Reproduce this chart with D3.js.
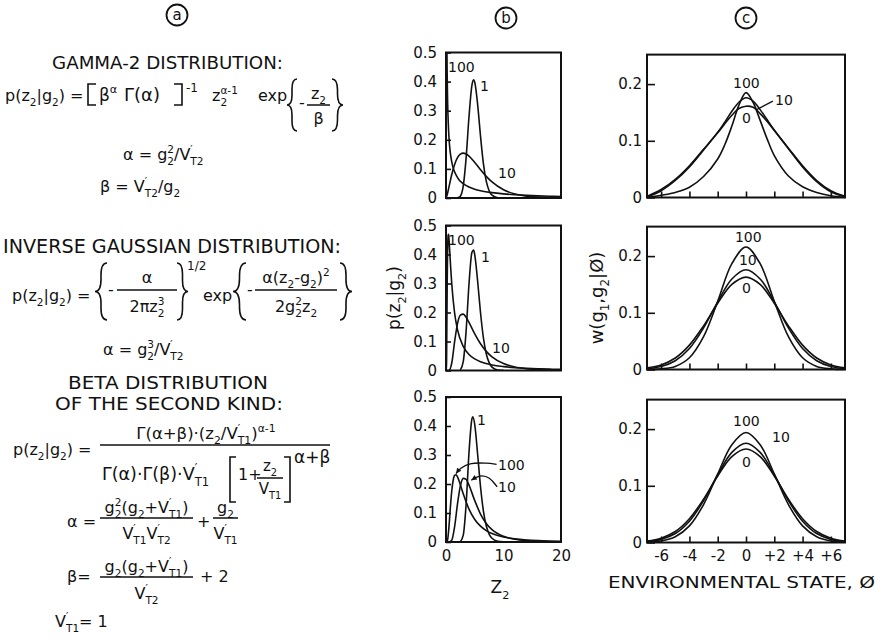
<!DOCTYPE html>
<html><head><meta charset="utf-8">
<script src="https://cdn.jsdelivr.net/npm/d3@7"></script>
<style>body{margin:0;background:#fff}svg{display:block}text{font-family:"DejaVu Sans",sans-serif;fill:#111}</style>
</head><body>
<script>
// ---------------- DATA ----------------
// Panel b: p(z2|g2) for V'T2 = 1, 10, 100
const gammaZ1   = [2, 2.5, 3, 3.5, 4, 4.5, 4.8, 5, 5.5, 6, 6.5, 7, 7.5, 8, 9, 10];
const gammaP1   = [0.0004, 0.0064, 0.0415, 0.138, 0.279, 0.386, 0.406, 0.398, 0.322, 0.213, 0.119, 0.058, 0.025, 0.0096, 0.0011, 0.0001];
const gammaZ10  = [0, 0.25, 0.5, 1, 1.5, 2, 2.5, 3, 3.5, 4, 5, 6, 7, 8, 10, 12, 14, 16, 18, 20];
const gammaP10  = [0, 0.0147, 0.0366, 0.0807, 0.1154, 0.1384, 0.1506, 0.1542, 0.1513, 0.144, 0.122, 0.0973, 0.0744, 0.0551, 0.0283, 0.0137, 0.0064, 0.0029, 0.0013, 0.0005];
const gammaZ100 = [0.05, 0.1, 0.15, 0.2, 0.25, 0.5, 0.75, 1, 2, 3, 4, 5, 6, 8, 10, 12, 14, 16, 18, 20];
const gammaP100 = [1.23, 0.73, 0.537, 0.432, 0.364, 0.214, 0.156, 0.124, 0.0702, 0.0492, 0.0378, 0.0304, 0.0252, 0.0184, 0.0141, 0.0111, 0.0089, 0.0073, 0.0061, 0.0051];

const igZ1   = [2.5, 3, 3.5, 4, 4.5, 4.8, 5, 5.5, 6, 6.5, 7, 7.5, 8, 9, 10];
const igP1   = [0.0022, 0.0306, 0.1366, 0.2984, 0.4066, 0.4154, 0.3989, 0.3087, 0.2001, 0.1133, 0.0577, 0.027, 0.0118, 0.0019, 0.0003];
const igZ10  = [0, 0.5, 1, 1.5, 2, 2.5, 3, 3.5, 4, 5, 6, 7, 8, 10, 12, 14, 16, 20];
const igP10  = [0, 0.0002, 0.0258, 0.0997, 0.1619, 0.191, 0.1945, 0.1834, 0.1656, 0.1262, 0.0921, 0.066, 0.0471, 0.0239, 0.0122, 0.0063, 0.0033, 0.001];
const igZ100 = [0, 0.05, 0.1, 0.15, 0.2, 0.25, 0.3, 0.35, 0.4, 0.45, 0.5, 0.6, 0.8, 1, 1.5, 2, 3, 4, 5, 6, 8, 10, 12, 14, 16, 18, 20];
const igP100 = [0, 0.0002, 0.0349, 0.1524, 0.2799, 0.3739, 0.4308, 0.4597, 0.4699, 0.4678, 0.4583, 0.4283, 0.3592, 0.299, 0.1979, 0.1409, 0.083, 0.0554, 0.0399, 0.0302, 0.0192, 0.0133, 0.0097, 0.0074, 0.0058, 0.0046, 0.0038];

const btZ1   = [2.5, 3, 3.5, 4, 4.5, 4.67, 5, 5.5, 6, 6.5, 7, 7.5, 8, 9, 10];
const btP1   = [0.0011, 0.0235, 0.1304, 0.3087, 0.4235, 0.4317, 0.4045, 0.3026, 0.1915, 0.1077, 0.0559, 0.0274, 0.013, 0.0027, 0.0005];
const btZ10  = [0, 0.5, 1, 1.5, 2, 2.5, 3, 3.5, 4, 5, 6, 7, 8, 10, 12, 14, 16, 20];
const btP10  = [0, 0.0001, 0.0063, 0.053, 0.1315, 0.1934, 0.2193, 0.2159, 0.1961, 0.1426, 0.0965, 0.0641, 0.0426, 0.0196, 0.0096, 0.005, 0.0028, 0.001];
const btZ100 = [0, 0.25, 0.5, 0.75, 1, 1.25, 1.5, 1.75, 2, 2.5, 3, 4, 5, 6, 7, 8, 10, 12, 14, 16, 18, 20];
const btP100 = [0, 0.0054, 0.0489, 0.1171, 0.176, 0.2129, 0.2296, 0.2318, 0.2246, 0.1974, 0.1661, 0.1134, 0.0778, 0.0546, 0.0394, 0.0291, 0.017, 0.0107, 0.0071, 0.0049, 0.0035, 0.0026];

const bYTicks = [0, 0.1, 0.2, 0.3, 0.4, 0.5];
const bXTicks = [0, 10, 20];

// Panel c: w(g1,g2|Ø) for V = 0, 10, 100
const phiTop = [-7, -6, -5, -4, -3, -2, -1.5, -1, -0.5, 0, 0.5, 1, 1.5, 2, 3, 4, 5, 6, 7];
const top0   = [0.002, 0.014, 0.032, 0.056, 0.085, 0.114, 0.13, 0.145, 0.157, 0.161, 0.159, 0.148, 0.134, 0.118, 0.087, 0.056, 0.03, 0.012, 0.002];
const top10  = [0.001, 0.012, 0.03, 0.054, 0.084, 0.115, 0.133, 0.152, 0.168, 0.176, 0.17, 0.155, 0.137, 0.119, 0.086, 0.054, 0.028, 0.01, 0.001];
const top100 = [0, 0.004, 0.009, 0.018, 0.037, 0.068, 0.093, 0.126, 0.163, 0.185, 0.168, 0.136, 0.103, 0.074, 0.038, 0.019, 0.009, 0.003, 0];

const phi    = [-7, -6, -5, -4, -3, -2, -1, 0, 1, 2, 3, 4, 5, 6, 7];
const mid0   = [0.0028, 0.0081, 0.0203, 0.043, 0.077, 0.1168, 0.150, 0.163, 0.150, 0.1168, 0.077, 0.043, 0.0203, 0.0081, 0.0028];
const mid10  = [0.0015, 0.0053, 0.0155, 0.0371, 0.0733, 0.1193, 0.1597, 0.176, 0.1597, 0.1193, 0.0733, 0.0371, 0.0155, 0.0053, 0.0015];
const mid100 = [0.0001, 0.0011, 0.0055, 0.0207, 0.0578, 0.1202, 0.1866, 0.216, 0.1866, 0.1202, 0.0578, 0.0207, 0.0055, 0.0011, 0.0001];
const bot0   = [0.0025, 0.0076, 0.0194, 0.042, 0.0764, 0.1172, 0.1515, 0.165, 0.1515, 0.1172, 0.0764, 0.042, 0.0194, 0.0076, 0.0025];
const bot10  = [0.0016, 0.0055, 0.0158, 0.0376, 0.0737, 0.1191, 0.1589, 0.175, 0.1589, 0.1191, 0.0737, 0.0376, 0.0158, 0.0055, 0.0016];
const bot100 = [0.0006, 0.0027, 0.0101, 0.0293, 0.0669, 0.1209, 0.1724, 0.194, 0.1724, 0.1209, 0.0669, 0.0293, 0.0101, 0.0027, 0.0006];

const cYTicks = [0, 0.1, 0.2];
const cXTicks = [-6, -4, -2, 0, 2, 4, 6];

// ---------------- SETUP ----------------
const INK = "#111";
const svg = d3.select("body").append("svg").attr("width", 886).attr("height", 640);
svg.append("rect").attr("width", 886).attr("height", 640).attr("fill", "#fff");

function parse(str) {
  const out = []; let i = 0, buf = "";
  const flush = () => { if (buf) { out.push({ t: buf, m: 0 }); buf = ""; } };
  while (i < str.length) {
    const c = str[i];
    if (c === "_" || c === "^") {
      flush(); i++;
      let arg;
      if (str[i] === "{") { const j = str.indexOf("}", i); arg = str.slice(i + 1, j); i = j + 1; }
      else { arg = str[i]; i++; }
      out.push({ t: arg, m: c === "_" ? 1 : -1 });
    } else { buf += c; i++; }
  }
  flush();
  return out;
}
function rich(g, x, y, str, size, anchor) {
  const t = g.append("text").attr("x", x).attr("y", y).attr("font-size", size)
    .attr("text-anchor", anchor || "start");
  let cur = 0, prev = null, pend = 0;
  parse(str).forEach(s => {
    const shift = s.m === 1 ? size * 0.33 : s.m === -1 ? -size * 0.45 : 0;
    const fs = s.m ? size * 0.66 : size;
    const ts = t.append("tspan").attr("font-size", fs).attr("dy", shift - cur).text(s.t);
    cur = shift;
    let dx = 0;
    if (prev && prev.m && s.m && prev.m !== s.m && !prev.stk) {
      const w1 = prev.node.getComputedTextLength();
      dx = -w1; s.stk = true;
      const w2 = ts.node().getComputedTextLength();
      pend = Math.max(0, w1 - w2);
    } else { dx = pend; pend = 0; }
    if (dx) ts.attr("dx", dx);
    s.node = ts.node();
    prev = s;
  });
  return t;
}
function hline(g, x0, x1, y) {
  g.append("line").attr("x1", x0).attr("x2", x1).attr("y1", y).attr("y2", y)
    .attr("stroke", INK).attr("stroke-width", 1.5);
}
function frac(g, x0, x1, yBar, num, numY, den, denY, size) {
  hline(g, x0, x1, yBar);
  rich(g, (x0 + x1) / 2, numY, num, size, "middle");
  rich(g, (x0 + x1) / 2, denY, den, size, "middle");
}
function brace(g, x0, x1, y0, y1, open) {
  const xp = open ? x0 : x1, xe = open ? x1 : x0, xm = (x0 + x1) / 2, ym = (y0 + y1) / 2;
  const r = Math.min(Math.abs(x1 - x0), (y1 - y0) / 4);
  const d = `M${xe},${y0} Q${xm},${y0} ${xm},${y0 + r} L${xm},${ym - r} Q${xm},${ym} ${xp},${ym}` +
            ` Q${xm},${ym} ${xm},${ym + r} L${xm},${y1 - r} Q${xm},${y1} ${xe},${y1}`;
  g.append("path").attr("d", d).attr("fill", "none").attr("stroke", INK).attr("stroke-width", 1.6);
}
function bracket(g, x0, x1, y0, y1, open) {
  const xs = open ? x0 : x1, xe = open ? x1 : x0;
  g.append("path").attr("d", `M${xe},${y0} L${xs},${y0} L${xs},${y1} L${xe},${y1}`)
    .attr("fill", "none").attr("stroke", INK).attr("stroke-width", 1.6);
}
function circled(g, cx, cy, ch) {
  g.append("circle").attr("cx", cx).attr("cy", cy).attr("r", 10.5).attr("fill", "none")
    .attr("stroke", INK).attr("stroke-width", 1.8);
  g.append("text").attr("x", cx).attr("y", cy + 5).attr("text-anchor", "middle")
    .attr("font-size", 15).text(ch);
}

// ---------------- PANEL A (formulas) ----------------
const A = svg.append("g");
circled(A, 177, 15, "a");
A.append("text").attr("x", 52).attr("y", 69).attr("font-size", 17)
  .attr("textLength", 231).attr("lengthAdjust", "spacingAndGlyphs").text("GAMMA-2 DISTRIBUTION:");
// gamma formula
rich(A, 5, 101, "p(z_2|g_2) =", 16);
bracket(A, 88, 96, 84, 105, true);
rich(A, 99, 101, "β^α", 17);
rich(A, 124, 101, "Γ(α)", 18);
bracket(A, 174, 182, 84, 105, false);
rich(A, 186, 92, "-1", 12);
rich(A, 212, 101, "z_2^{α-1}", 16);
rich(A, 258, 101, "exp", 16);
brace(A, 287, 297, 79, 131, true);
rich(A, 299, 108, "-", 16);
frac(A, 307, 330, 105, "z_2", 99, "β", 124, 16);
brace(A, 332, 343, 79, 131, false);
rich(A, 123, 160, "α = g_2^2/V^′_{T2}", 16);
rich(A, 100, 192, "β = V^′_{T2}/g_2", 16);

// inverse gaussian
A.append("text").attr("x", 3).attr("y", 253).attr("font-size", 19)
  .attr("textLength", 338).attr("lengthAdjust", "spacingAndGlyphs").text("INVERSE GAUSSIAN DISTRIBUTION:");
rich(A, 12, 301, "p(z_2|g_2) =", 16);
brace(A, 95, 107, 263, 320, true);
rich(A, 108, 295, "-", 16);
frac(A, 117, 177, 290, "α", 283, "2πz_2^3", 312, 16);
brace(A, 177, 188, 263, 320, false);
rich(A, 187, 270, "1/2", 12);
rich(A, 203, 301, "exp", 16);
brace(A, 233, 246, 263, 320, true);
rich(A, 247, 295, "-", 16);
frac(A, 255, 337, 290, "α(z_2-g_2)^2", 283, "2g_2^2z_2", 312, 16);
brace(A, 340, 352, 263, 320, false);
rich(A, 103, 355, "α = g_2^3/V^′_{T2}", 16);

// beta second kind (two-line heading)
A.append("text").attr("x", 68).attr("y", 389).attr("font-size", 18).attr("textLength", 200)
  .attr("lengthAdjust", "spacingAndGlyphs").text("BETA DISTRIBUTION");
A.append("text").attr("x", 55).attr("y", 410).attr("font-size", 18).attr("textLength", 228)
  .attr("lengthAdjust", "spacingAndGlyphs").text("OF THE SECOND KIND:");
rich(A, 13, 455, "p(z_2|g_2) =", 16);
hline(A, 100, 330, 445);
rich(A, 206, 439, "Γ(α+β)·(z_2/V^′_{T1})^{α-1}", 16.5, "middle");
rich(A, 102, 480, "Γ(α)·Γ(β)·V^′_{T1}", 17.5);
bracket(A, 230, 236, 457, 502, true);
rich(A, 238, 480, "1+", 16);
frac(A, 257, 283, 478, "z_2", 471, "V_{T1}", 494, 15);
bracket(A, 284, 290, 457, 502, false);
rich(A, 294, 463, "α+β", 17);

rich(A, 67, 527, "α =", 16);
frac(A, 100, 193, 518, "g_2^2(g_2+V^′_{T1})", 513, "V^′_{T1}V^′_{T2}", 539, 16);
rich(A, 197, 527, "+", 16);
frac(A, 213, 238, 518, "g_2", 513, "V^′_{T1}", 539, 16);

rich(A, 67, 582, "β=", 16);
frac(A, 100, 193, 577, "g_2(g_2+V^′_{T1})", 572, "V^′_{T2}", 599, 16);
rich(A, 200, 582, "+ 2", 16);
rich(A, 55, 627, "V^′_{T1}= 1", 16);

// ---------------- PANEL B ----------------
const B = svg.append("g");
circled(B, 506, 18, "b");
const xB = d3.scaleLinear([0, 20], [446, 561]);
const bRows = [
  { top: 52.5, bottom: 198, series: [[gammaZ1, gammaP1], [gammaZ10, gammaP10], [gammaZ100, gammaP100]],
    labels: [["100", 0.35, 0.434], ["1", 5.9, 0.366], ["10", 9.05, 0.069]] },
  { top: 225.5, bottom: 370.5, series: [[igZ1, igP1], [igZ10, igP10], [igZ100, igP100]],
    labels: [["100", 0.35, 0.433], ["1", 6.1, 0.374], ["10", 8.0, 0.06]] },
  { top: 397, bottom: 542, series: [[btZ1, btP1], [btZ10, btP10], [btZ100, btP100]],
    labels: [["1", 5.4, 0.403], ["100", 9.05, 0.248], ["10", 9.05, 0.172]] }
];
// leader lines (data units) for bottom b panel
const lead100 = [[8.8, 0.268], [7.1, 0.272], [4.2, 0.274], [2.4, 0.254], [1.75, 0.236]];
const lead10  = [[8.9, 0.19], [7.6, 0.224], [5.9, 0.232], [4.4, 0.213]];

bRows.forEach((row, i) => {
  const y = d3.scaleLinear([0, 0.5], [row.bottom, row.top]);
  const cid = "clipb" + i;
  B.append("clipPath").attr("id", cid).append("rect")
    .attr("x", xB(0)).attr("y", y(0.5)).attr("width", xB(20) - xB(0)).attr("height", y(0) - y(0.5));
  const line = d3.line().x(d => xB(d[0])).y(d => y(d[1])).curve(d3.curveMonotoneX);
  row.series.forEach(([zs, ps]) => {
    B.append("path").attr("clip-path", `url(#${cid})`).attr("d", line(d3.zip(zs, ps)))
      .attr("fill", "none").attr("stroke", INK).attr("stroke-width", 1.6);
  });
  const ax = B.append("g").attr("transform", `translate(${xB(0)},0)`)
    .call(d3.axisLeft(y).tickValues(bYTicks).tickSize(-5).tickPadding(9)
      .tickFormat(d => d === 0 ? "0" : d3.format(".1f")(d)));
  ax.select(".domain").remove();
  ax.selectAll("line").attr("stroke", INK).attr("stroke-width", 1.6);
  ax.selectAll("text").attr("font-size", 15).attr("fill", INK).attr("font-family", "DejaVu Sans");
  B.append("rect").attr("x", xB(0)).attr("y", y(0.5)).attr("width", xB(20) - xB(0))
    .attr("height", y(0) - y(0.5)).attr("fill", "none").attr("stroke", INK).attr("stroke-width", 2);
  row.labels.forEach(([t, zx, py]) => {
    B.append("text").attr("x", xB(zx)).attr("y", y(py)).attr("font-size", 14).text(t);
  });
  if (i === 2) {
    const bx = B.append("g").attr("transform", `translate(0,${row.bottom})`)
      .call(d3.axisBottom(xB).tickValues(bXTicks).tickSize(0).tickPadding(8));
    bx.select(".domain").remove();
    bx.selectAll("text").attr("font-size", 15).attr("fill", INK).attr("font-family", "DejaVu Sans");
    const ll = d3.line().x(d => xB(d[0])).y(d => y(d[1])).curve(d3.curveBasis);
    [lead100, lead10].forEach(L => {
      B.append("path").attr("d", ll(L)).attr("fill", "none").attr("stroke", INK).attr("stroke-width", 1.3);
      const a = L[L.length - 1], b = L[L.length - 2];
      const ang = Math.atan2(y(a[1]) - y(b[1]), xB(a[0]) - xB(b[0]));
      const tx = xB(a[0]), ty = y(a[1]);
      const p1 = [tx - 6 * Math.cos(ang - 0.45), ty - 6 * Math.sin(ang - 0.45)];
      const p2 = [tx - 6 * Math.cos(ang + 0.45), ty - 6 * Math.sin(ang + 0.45)];
      B.append("path").attr("d", `M${tx},${ty} L${p1} L${p2} Z`).attr("fill", INK);
    });
  }
});
rich(B, 500, 593, "Z_2", 17, "middle");
{
  const g = B.append("g").attr("transform", "translate(400,298) rotate(-90)");
  rich(g, 0, 0, "p(z_2|g_2)", 17, "middle");
}

// ---------------- PANEL C ----------------
const C = svg.append("g");
circled(C, 746, 18, "c");
const xC = d3.scaleLinear([-7, 7], [647, 845]);
const cRows = [
  { bottom: 197.5, xs: phiTop, series: [top0, top10, top100],
    labels: [["100", -0.92, 0.193], ["10", 2.05, 0.163], ["0", -0.28, 0.131]], lead: [[1.9, 0.17], [0.75, 0.155]] },
  { bottom: 369.5, xs: phi, series: [mid0, mid10, mid100],
    labels: [["100", -0.78, 0.224], ["10", -0.5, 0.184], ["0", -0.28, 0.135]] },
  { bottom: 542.5, xs: phi, series: [bot0, bot10, bot100],
    labels: [["100", -0.92, 0.205], ["10", 1.84, 0.178], ["0", -0.28, 0.133]] }
];
cRows.forEach((row, i) => {
  const y = d3.scaleLinear([0, 0.252], [row.bottom, row.bottom - 0.252 * 567]);
  const line = d3.line().x((d, k) => xC(row.xs[k])).y(d => y(d)).curve(d3.curveCatmullRom.alpha(0.5));
  row.series.forEach(vals => {
    C.append("path").attr("d", line(vals)).attr("fill", "none").attr("stroke", INK).attr("stroke-width", 1.6);
  });
  const ay = C.append("g").attr("transform", `translate(${xC(-7)},0)`)
    .call(d3.axisLeft(y).tickValues(cYTicks).tickSize(-8).tickPadding(5)
      .tickFormat(d => d === 0 ? "0" : d3.format(".1f")(d)));
  ay.select(".domain").remove();
  ay.selectAll("line").attr("stroke", INK).attr("stroke-width", 1.6);
  ay.selectAll("text").attr("font-size", 15).attr("fill", INK).attr("font-family", "DejaVu Sans");
  const axb = C.append("g").attr("transform", `translate(0,${row.bottom})`)
    .call(d3.axisBottom(xC).tickValues(cXTicks).tickSize(-6).tickPadding(8)
      .tickFormat(d => i === 2 ? (d > 0 ? "+" + d : String(d)) : ""));
  axb.select(".domain").remove();
  axb.selectAll("line").attr("stroke", INK).attr("stroke-width", 1.6);
  axb.selectAll("text").attr("font-size", 15).attr("fill", INK).attr("font-family", "DejaVu Sans");
  C.append("rect").attr("x", xC(-7)).attr("y", y(0.252)).attr("width", xC(7) - xC(-7))
    .attr("height", y(0) - y(0.252)).attr("fill", "none").attr("stroke", INK).attr("stroke-width", 2);
  row.labels.forEach(([t, px, py]) => {
    C.append("text").attr("x", xC(px)).attr("y", y(py)).attr("font-size", 14).text(t);
  });
  if (row.lead) {
    C.append("path").attr("d", d3.line().x(d => xC(d[0])).y(d => y(d[1]))(row.lead))
      .attr("fill", "none").attr("stroke", INK).attr("stroke-width", 1.3);
  }
});
C.append("text").attr("x", 608).attr("y", 588).attr("font-size", 16)
  .attr("textLength", 267).attr("lengthAdjust", "spacingAndGlyphs").text("ENVIRONMENTAL STATE, Ø");
{
  const g = C.append("g").attr("transform", "translate(603,298) rotate(-90)");
  rich(g, 0, 0, "w(g_1,g_2|Ø)", 18, "middle");
}
</script>
</body></html>
